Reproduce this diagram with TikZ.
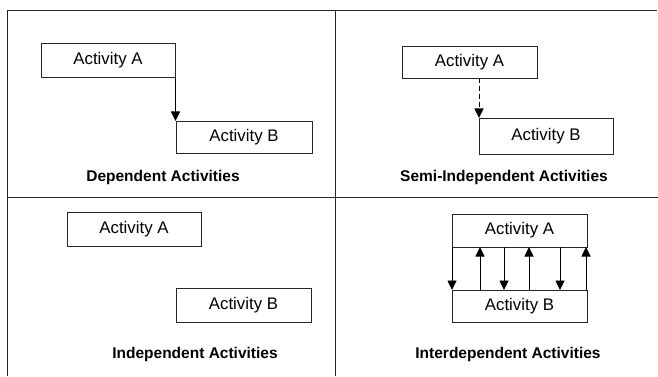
\documentclass[tikz,border=0pt]{standalone}
\usepackage{fontspec}
\setmainfont{Liberation Sans}
\usetikzlibrary{arrows.meta}
\begin{document}
\begin{tikzpicture}[x=1pt,y=-1pt,
  frame/.style={draw=black!85,line width=0.9pt},
  actbox/.style={draw=black!85,line width=0.9pt,inner sep=0pt},
  acttext/.style={font=\fontsize{16.8}{19}\selectfont},
  caption/.style={font=\bfseries\fontsize{15.5}{18}\selectfont},
  link/.style={draw=black,line width=0.9pt,-{Triangle[length=9.5pt,width=9pt]}},
  ]
\useasboundingbox (0,0) rectangle (658,377);
% quadrant grid
\draw[frame] (7,376) -- (7,10) -- (657,10);
\draw[frame] (335,10) -- (335,376);
\draw[frame] (7,197) -- (658,197);

% --- dependent ---
\draw[actbox] (41,43) rectangle (175,77);
\node[acttext] (d1a) at (108,60) {Activity A};
\draw[actbox] (176,121) rectangle (312,153);
\node[acttext] (d1b) at (244,137) {Activity B};
\coordinate (d1s) at (175.5,77);
\coordinate (d1e) at (175.5,121);
\draw[link] (d1s) -- (d1e);
\node[caption] (d1c) at (163,177) {Dependent Activities};

% --- semi-independent ---
\draw[actbox] (402,46) rectangle (537,78);
\node[acttext] (s1a) at (469.5,62) {Activity A};
\draw[actbox] (479,118) rectangle (613,154);
\node[acttext] (s1b) at (546,136) {Activity B};
\coordinate (s1s) at (479,78);
\coordinate (s1e) at (479,118);
\draw[link,dashed,dash pattern=on 5pt off 3pt] (s1s) -- (s1e);
\node[caption] (s1c) at (504,177) {Semi-Independent Activities};

% --- independent ---
\draw[actbox] (67,212) rectangle (201,246);
\node[acttext] (i1a) at (134,229) {Activity A};
\draw[actbox] (176,288) rectangle (311,322);
\node[acttext] (i1b) at (243.5,305) {Activity B};
\node[caption] (i1c) at (195,354) {Independent Activities};

% --- interdependent ---
\draw[actbox] (452,214) rectangle (587,247);
\node[acttext] (n1a) at (519.5,230.5) {Activity A};
\draw[actbox] (452,290) rectangle (587,322);
\node[acttext] (n1b) at (519.5,306) {Activity B};
\foreach \xx/\nm in {452/p1,504/p3,560/p5}{
  \coordinate (\nm t) at (\xx,247);
  \coordinate (\nm b) at (\xx,290);
  \draw[link] (\nm t) -- (\nm b);
}
\foreach \xx/\nm in {480/p2,529/p4,586/p6}{
  \coordinate (\nm t) at (\xx,247);
  \coordinate (\nm b) at (\xx,290);
  \draw[link] (\nm b) -- (\nm t);
}
\node[caption] (n1c) at (508,354) {Interdependent Activities};
\end{tikzpicture}
\end{document}
